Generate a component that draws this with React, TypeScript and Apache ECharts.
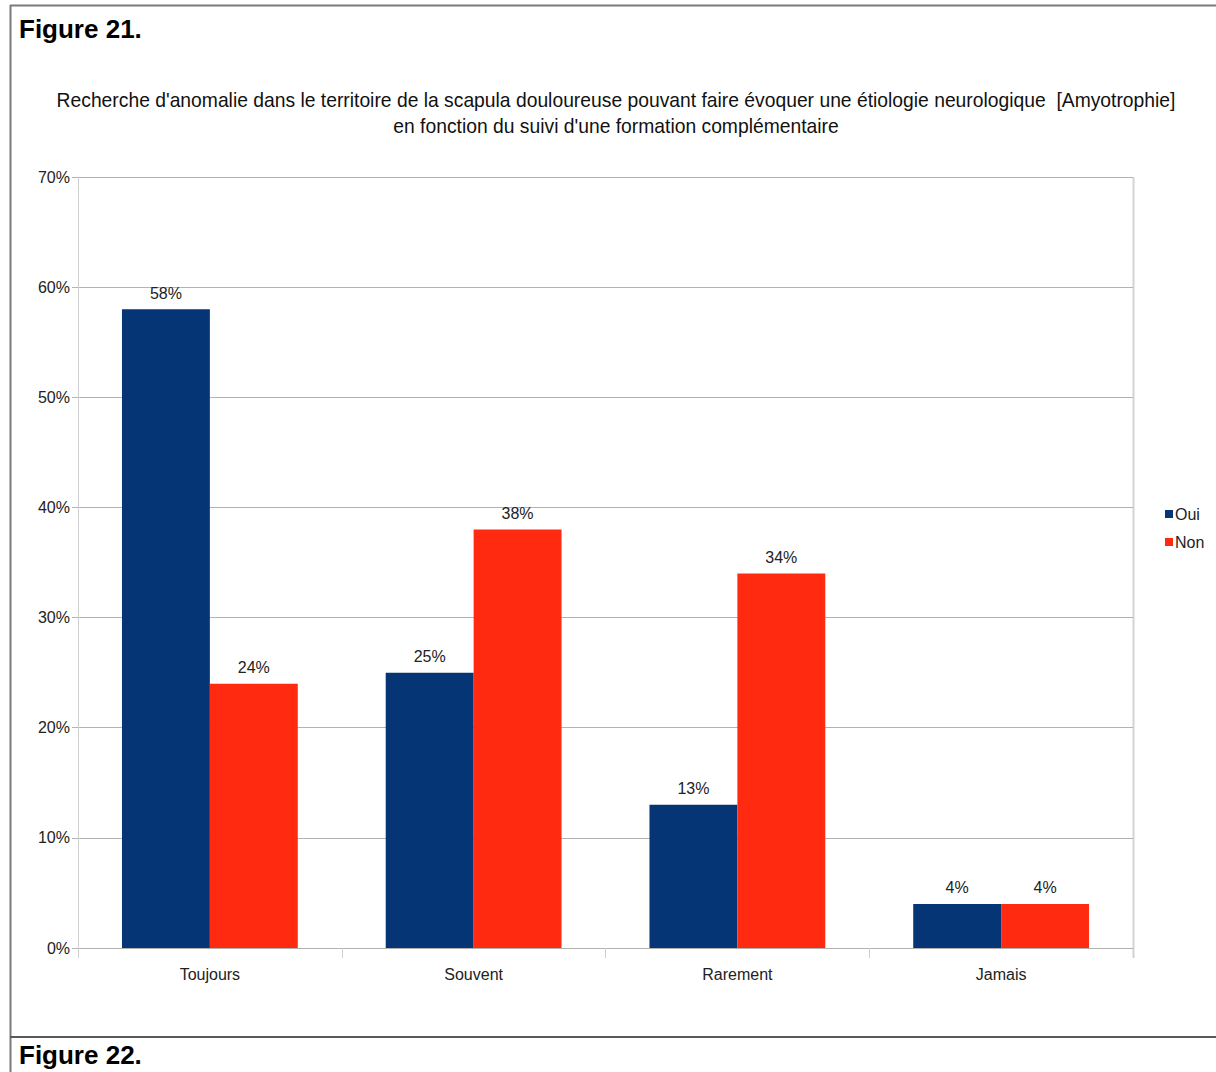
import React, { useEffect, useRef } from "react";
import * as echarts from "echarts";

const categories = ["Toujours", "Souvent", "Rarement", "Jamais"];
const ouiValues = [58, 25, 13, 4];
const nonValues = [24, 38, 34, 4];
const seriesNames = ["Oui", "Non"];
const yTicks = [0, 10, 20, 30, 40, 50, 60, 70];
const titleLines = [
  "Recherche d'anomalie dans le territoire de la scapula douloureuse pouvant faire évoquer une étiologie neurologique  [Amyotrophie]",
  "en fonction du suivi d'une formation complémentaire",
];

const FONT = "'Liberation Sans Narrow', 'Liberation Sans', Arial, sans-serif";

export default function App() {
  const ref = useRef<HTMLDivElement>(null);
  useEffect(() => {
    const chart = echarts.init(ref.current!, null, { renderer: "svg" });
    const labelStyle = {
      show: true,
      position: "top",
      distance: 8,
      formatter: "{c}%",
      fontFamily: FONT,
      fontSize: 16,
      color: "#222",
    };
    chart.setOption({
      animation: false,
      backgroundColor: "#ffffff",
      legend: {
        orient: "vertical",
        left: 1160,
        top: 501,
        itemWidth: 8,
        itemHeight: 8,
        itemGap: 12,
        icon: "rect",
        textStyle: { fontFamily: FONT, fontSize: 16, color: "#222", padding: [0, 0, 0, -3] },
        data: seriesNames,
      },
      grid: { left: 78, right: 83, top: 177, bottom: 124, containLabel: false },
      xAxis: {
        type: "category",
        data: categories,
        axisLine: { show: true, lineStyle: { color: "#b3b3b3", width: 1 } },
        axisTick: { show: true, alignWithLabel: false, length: 10, lineStyle: { color: "#d0d0d0" } },
        axisLabel: { fontFamily: FONT, fontSize: 16, color: "#222", margin: 18 },
        splitLine: { show: false },
      },
      yAxis: {
        type: "value",
        min: 0,
        max: 70,
        interval: 10,
        axisLine: { show: true, lineStyle: { color: "#cfcfcf" } },
        axisTick: { show: true, length: 6, lineStyle: { color: "#b3b3b3" } },
        axisLabel: {
          fontFamily: FONT,
          fontSize: 16,
          color: "#222",
          margin: 8,
          formatter: (v: number) => (yTicks.includes(v) ? v + "%" : ""),
        },
        splitLine: { show: true, lineStyle: { color: "#b3b3b3", width: 1 } },
      },
      graphic: [
        {
          type: "line",
          shape: { x1: 1133.5, y1: 177, x2: 1133.5, y2: 958 },
          style: { stroke: "#d4d4d4", lineWidth: 2 },
          silent: true,
        },
        {
          type: "line",
          shape: { x1: 10.5, y1: 5, x2: 10.5, y2: 1072 },
          style: { stroke: "#7a7a7a", lineWidth: 2 },
        },
        {
          type: "line",
          shape: { x1: 10, y1: 5.5, x2: 1216, y2: 5.5 },
          style: { stroke: "#7a7a7a", lineWidth: 2 },
        },
        {
          type: "line",
          shape: { x1: 10, y1: 1037, x2: 1216, y2: 1037 },
          style: { stroke: "#5a5a5a", lineWidth: 2 },
        },
        {
          type: "text",
          x: 616,
          y: 100,
          scaleX: 0.965,
          style: {
            text: titleLines[0],
            font: "20px " + FONT,
            fill: "#111",
            textAlign: "center",
            textVerticalAlign: "middle",
          },
        },
        {
          type: "text",
          x: 616,
          y: 126,
          scaleX: 0.965,
          style: {
            text: titleLines[1],
            font: "20px " + FONT,
            fill: "#111",
            textAlign: "center",
            textVerticalAlign: "middle",
          },
        },
        {
          type: "text",
          x: 19,
          y: 29,
          style: {
            text: "Figure 21.",
            font: "bold 26px 'Liberation Sans', Arial, sans-serif",
            fill: "#000",
            textVerticalAlign: "middle",
          },
        },
        {
          type: "text",
          x: 19,
          y: 1055,
          style: {
            text: "Figure 22.",
            font: "bold 26px 'Liberation Sans', Arial, sans-serif",
            fill: "#000",
            textVerticalAlign: "middle",
          },
        },
      ],
      series: [
        {
          name: seriesNames[0],
          type: "bar",
          data: ouiValues,
          barWidth: "33.33%",
          barGap: "0%",
          itemStyle: { color: "#063575" },
          label: labelStyle,
        },
        {
          name: seriesNames[1],
          type: "bar",
          data: nonValues,
          barWidth: "33.33%",
          barGap: "0%",
          itemStyle: { color: "#ff2a10" },
          label: labelStyle,
        },
      ],
    });
    return () => chart.dispose();
  }, []);
  return (
    <div
      ref={ref}
      style={{ position: "absolute", left: 0, top: 0, width: 1216, height: 1072 }}
    />
  );
}
